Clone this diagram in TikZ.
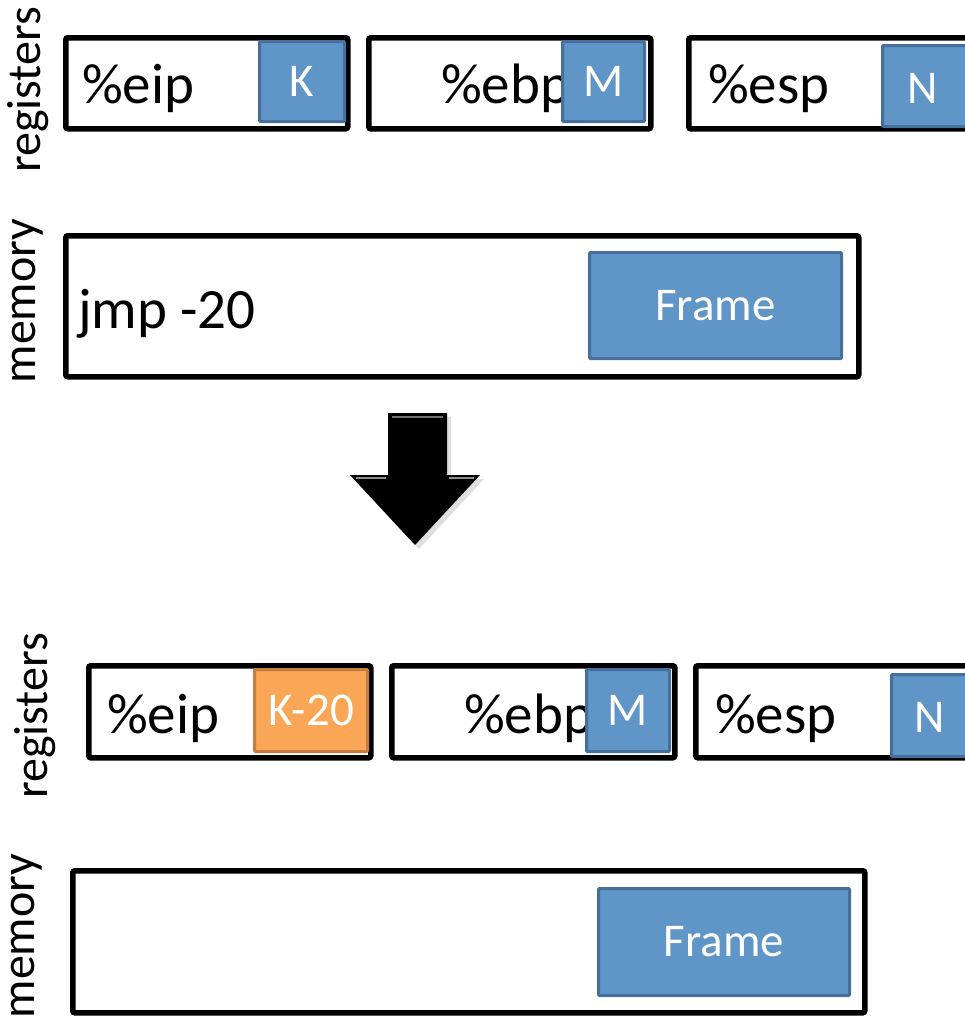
\documentclass[tikz,border=0pt]{standalone}
\usepackage{fontspec}
\setmainfont{Carlito}
\definecolor{bluefill}{RGB}{96,149,200}
\definecolor{blueline}{RGB}{70,112,155}
\definecolor{orfill}{RGB}{249,167,87}
\definecolor{orline}{RGB}{196,126,62}
\begin{document}
\begin{tikzpicture}[x=1pt,y=-1pt,
  regbox/.style={draw=black, line width=5.5pt, rounded corners=2pt, fill=white, anchor=north west, inner sep=0pt},
  val/.style={fill=bluefill, draw=blueline, line width=3pt, anchor=north west, inner sep=0pt, rounded corners=1pt},
  oval/.style={val, fill=orfill, draw=orline},
  vtxt/.style={text=white, font=\fontsize{47}{50}\selectfont},
  big/.style={font=\fontsize{57}{62}\selectfont, anchor=base west, inner sep=0pt},
  side/.style={font=\fontsize{48}{52}\selectfont, rotate=90, inner sep=0pt}
]
\path[use as bounding box] (0,0) rectangle (965,1017);
\clip (0,0) rectangle (965,1017);

% ---------- top section ----------
\node[side] (lreg1) at (28,90) {registers};
\node[side] (lmem1) at (28,301) {memory};

\node[regbox, minimum width=282pt, minimum height=91pt] (eip1) at (63,35) {};
\node[big] (teip1) at (82,103) {\%eip};
\node[val, minimum width=85pt, minimum height=80pt] (k1) at (258,40) {};
\node[vtxt] (tk1) at (k1.center) {K};

\node[regbox, minimum width=282pt, minimum height=91pt] (ebp1) at (366,35) {};
\node[big] (tebp1) at (441,103) {\%ebp};
\node[val, minimum width=82pt, minimum height=80pt] (m1) at (561,40) {};
\node[vtxt] (tm1) at (m1.center) {M};

\node[regbox, minimum width=300pt, minimum height=91pt] (esp1) at (686,35) {};
\node[big] (tesp1) at (708,103) {\%esp};
\node[val, minimum width=90pt, minimum height=81pt] (n1) at (881,44) {};
\node[vtxt] (tn1) at (923,88) {N};

\node[regbox, minimum width=793pt, minimum height=141pt] (mem1) at (63,233) {};
\node[big] (tjmp) at (78,328) {jmp -20};
\node[val, minimum width=252pt, minimum height=106pt] (fr1) at (588,251) {};
\node[vtxt] (tfr1) at (fr1.center) {Frame};

% ---------- arrow ----------
\coordinate (arr) at (415,545);
\fill[black!25, opacity=0.5] (392,417) -- (451,417) -- (451,479) -- (484,479) -- (419,549) -- (354,479) -- (392,479) -- cycle;
\fill[black] (388,413) -- (447,413) -- (447,475) -- (480,475) -- (arr) -- (350,475) -- (388,475) -- cycle;
\draw[black!55, line width=1.5pt] (392,417) -- (443,417);
\draw[black!45, line width=1.2pt] (356,478) -- (386,478);
\draw[black!45, line width=1.2pt] (449,478) -- (474,478);

% ---------- bottom section ----------
\node[side] (lreg2) at (35,716) {registers};
\node[side] (lmem2) at (27,936) {memory};

\node[regbox, minimum width=282pt, minimum height=92pt] (eip2) at (86,663) {};
\node[big] (teip2) at (107,733) {\%eip};
\node[oval, minimum width=113pt, minimum height=82pt] (k2) at (253,668) {};
\node[vtxt] (tk2) at (k2.center) {K-20};

\node[regbox, minimum width=283pt, minimum height=92pt] (ebp2) at (389,663) {};
\node[big] (tebp2) at (464,733) {\%ebp};
\node[val, minimum width=83pt, minimum height=82pt] (m2) at (585,668) {};
\node[vtxt] (tm2) at (m2.center) {M};

\node[regbox, minimum width=300pt, minimum height=92pt] (esp2) at (693,663) {};
\node[big] (tesp2) at (715,733) {\%esp};
\node[val, minimum width=90pt, minimum height=82pt] (n2) at (890,673) {};
\node[vtxt] (tn2) at (930,717) {N};

\node[regbox, minimum width=792pt, minimum height=142pt] (mem2) at (70,868) {};
\node[val, minimum width=251pt, minimum height=107pt] (fr2) at (597,887) {};
\node[vtxt] (tfr2) at (fr2.center) {Frame};
\end{tikzpicture}
\end{document}
